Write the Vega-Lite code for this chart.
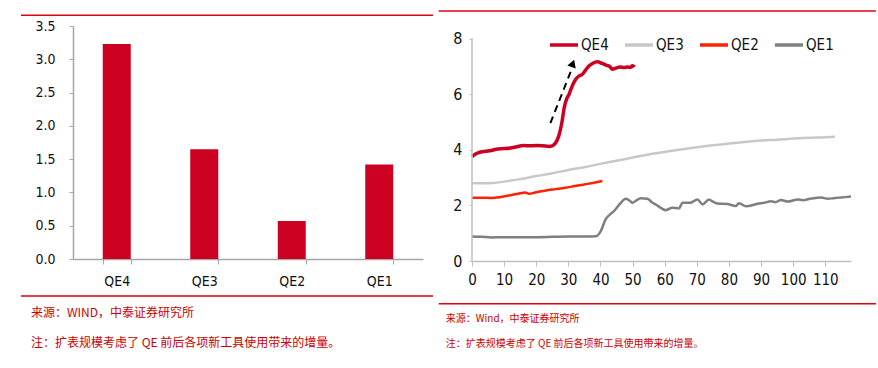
{
  "$schema": "https://vega.github.io/schema/vega-lite/v6.json",
  "background": "white",
  "padding": {"left": 20, "top": 10, "right": 0, "bottom": 0},
  "spacing": 49,
  "bounds": "flush",
  "config": {
    "view": {"stroke": null},
    "axis": {"labelColor": "#111111", "labelOverlap": false, "labelFont": "'Liberation Sans Narrow', 'DejaVu Sans Condensed', 'Liberation Sans', sans-serif"}
  },
  "datasets": {
    "bars": [
      {"qe": "QE4", "v": 3.23},
      {"qe": "QE3", "v": 1.65},
      {"qe": "QE2", "v": 0.57},
      {"qe": "QE1", "v": 1.42}
    ],
    "decoLeftRules": [
      {"x": -0.1486, "x2": 1.0286, "y": 3.661},
      {"x": -0.1486, "x2": 1.0286, "y": -0.556}
    ],
    "decoLeftText": [
      {"x": -0.12, "y": -0.816, "t": "来源：WIND，中泰证券研究所"},
      {"x": -0.12, "y": -1.257, "t": "注：扩表规模考虑了 QE 前后各项新工具使用带来的增量。"}
    ],
    "decoRightRules": [
      {"x": -10.37, "x2": 125.76, "y": 9.009},
      {"x": -10.37, "x2": 125.76, "y": -1.539}
    ],
    "decoRightText": [
      {"x": -8.16, "y": -2.09, "t": "来源：Wind，中泰证券研究所"},
      {"x": -8.16, "y": -2.99, "t": "注：扩表规模考虑了 QE 前后各项新工具使用带来的增量。"}
    ],
    "yAxisLine": [{"x": 0, "y": 0, "y2": 8.03}],
    "arrow": [{"x": 24.4, "y": 4.97, "x2": 31.0, "y2": 6.9}],
    "arrowHead": [{"x": 31.4, "y": 7.12}],
    "lines": [
      {"s": "QE4", "x": 0, "y": 3.76}, {"s": "QE4", "x": 1, "y": 3.85}, {"s": "QE4", "x": 2, "y": 3.9}, {"s": "QE4", "x": 4, "y": 3.95},
      {"s": "QE4", "x": 6, "y": 3.98}, {"s": "QE4", "x": 8, "y": 4.04}, {"s": "QE4", "x": 10, "y": 4.05}, {"s": "QE4", "x": 12, "y": 4.07},
      {"s": "QE4", "x": 14, "y": 4.12}, {"s": "QE4", "x": 16, "y": 4.16}, {"s": "QE4", "x": 18, "y": 4.15}, {"s": "QE4", "x": 20, "y": 4.16},
      {"s": "QE4", "x": 22, "y": 4.15}, {"s": "QE4", "x": 24, "y": 4.13}, {"s": "QE4", "x": 25, "y": 4.15}, {"s": "QE4", "x": 26, "y": 4.25},
      {"s": "QE4", "x": 27, "y": 4.5}, {"s": "QE4", "x": 28, "y": 5.0}, {"s": "QE4", "x": 28.7, "y": 5.52}, {"s": "QE4", "x": 29.5, "y": 5.85},
      {"s": "QE4", "x": 30.2, "y": 6.0}, {"s": "QE4", "x": 31, "y": 6.25}, {"s": "QE4", "x": 32.3, "y": 6.55}, {"s": "QE4", "x": 33.5, "y": 6.68},
      {"s": "QE4", "x": 34.4, "y": 6.73}, {"s": "QE4", "x": 35.5, "y": 6.9}, {"s": "QE4", "x": 36.4, "y": 7.03}, {"s": "QE4", "x": 37.5, "y": 7.12},
      {"s": "QE4", "x": 39, "y": 7.18}, {"s": "QE4", "x": 40.5, "y": 7.12}, {"s": "QE4", "x": 41.7, "y": 7.06}, {"s": "QE4", "x": 42.8, "y": 7.02},
      {"s": "QE4", "x": 43.7, "y": 6.91}, {"s": "QE4", "x": 45, "y": 6.96}, {"s": "QE4", "x": 46, "y": 6.99}, {"s": "QE4", "x": 47.5, "y": 6.97},
      {"s": "QE4", "x": 48.4, "y": 6.99}, {"s": "QE4", "x": 49.3, "y": 6.98}, {"s": "QE4", "x": 50, "y": 7.04}, {"s": "QE4", "x": 50.6, "y": 6.99},
      {"s": "QE3", "x": 0, "y": 2.8}, {"s": "QE3", "x": 5, "y": 2.8}, {"s": "QE3", "x": 10, "y": 2.86}, {"s": "QE3", "x": 15, "y": 2.95},
      {"s": "QE3", "x": 20, "y": 3.06}, {"s": "QE3", "x": 25, "y": 3.16}, {"s": "QE3", "x": 30, "y": 3.28}, {"s": "QE3", "x": 35, "y": 3.38},
      {"s": "QE3", "x": 40, "y": 3.5}, {"s": "QE3", "x": 45, "y": 3.61}, {"s": "QE3", "x": 50, "y": 3.73}, {"s": "QE3", "x": 55, "y": 3.84},
      {"s": "QE3", "x": 60, "y": 3.93}, {"s": "QE3", "x": 65, "y": 4.02}, {"s": "QE3", "x": 70, "y": 4.1}, {"s": "QE3", "x": 75, "y": 4.17},
      {"s": "QE3", "x": 80, "y": 4.23}, {"s": "QE3", "x": 85, "y": 4.29}, {"s": "QE3", "x": 90, "y": 4.34}, {"s": "QE3", "x": 95, "y": 4.37},
      {"s": "QE3", "x": 100, "y": 4.41}, {"s": "QE3", "x": 105, "y": 4.44}, {"s": "QE3", "x": 110, "y": 4.46}, {"s": "QE3", "x": 113, "y": 4.48},
      {"s": "QE2", "x": 0, "y": 2.28}, {"s": "QE2", "x": 3, "y": 2.28}, {"s": "QE2", "x": 6, "y": 2.27}, {"s": "QE2", "x": 9, "y": 2.31},
      {"s": "QE2", "x": 12, "y": 2.37}, {"s": "QE2", "x": 15, "y": 2.44}, {"s": "QE2", "x": 16.5, "y": 2.47}, {"s": "QE2", "x": 17.8, "y": 2.42},
      {"s": "QE2", "x": 20, "y": 2.48}, {"s": "QE2", "x": 23, "y": 2.54}, {"s": "QE2", "x": 26, "y": 2.59}, {"s": "QE2", "x": 29, "y": 2.64},
      {"s": "QE2", "x": 32, "y": 2.7}, {"s": "QE2", "x": 35, "y": 2.76}, {"s": "QE2", "x": 38, "y": 2.82}, {"s": "QE2", "x": 40.6, "y": 2.88},
      {"s": "QE1", "x": 0, "y": 0.88}, {"s": "QE1", "x": 3, "y": 0.87}, {"s": "QE1", "x": 6, "y": 0.85}, {"s": "QE1", "x": 10, "y": 0.86},
      {"s": "QE1", "x": 15, "y": 0.86}, {"s": "QE1", "x": 20, "y": 0.86}, {"s": "QE1", "x": 25, "y": 0.87}, {"s": "QE1", "x": 30, "y": 0.88},
      {"s": "QE1", "x": 35, "y": 0.88}, {"s": "QE1", "x": 38.5, "y": 0.89}, {"s": "QE1", "x": 40.1, "y": 1.08}, {"s": "QE1", "x": 41.6, "y": 1.5},
      {"s": "QE1", "x": 43, "y": 1.68}, {"s": "QE1", "x": 44.2, "y": 1.8}, {"s": "QE1", "x": 46, "y": 2.05}, {"s": "QE1", "x": 47.9, "y": 2.24},
      {"s": "QE1", "x": 49, "y": 2.18}, {"s": "QE1", "x": 50, "y": 2.1}, {"s": "QE1", "x": 51, "y": 2.17}, {"s": "QE1", "x": 52.6, "y": 2.26},
      {"s": "QE1", "x": 54.6, "y": 2.24}, {"s": "QE1", "x": 56, "y": 2.12}, {"s": "QE1", "x": 57.7, "y": 2.0}, {"s": "QE1", "x": 59, "y": 1.9},
      {"s": "QE1", "x": 60.3, "y": 1.83}, {"s": "QE1", "x": 62.4, "y": 1.92}, {"s": "QE1", "x": 64.5, "y": 1.9}, {"s": "QE1", "x": 65.5, "y": 2.1},
      {"s": "QE1", "x": 68, "y": 2.1}, {"s": "QE1", "x": 70.2, "y": 2.22}, {"s": "QE1", "x": 71.8, "y": 2.04}, {"s": "QE1", "x": 73.8, "y": 2.22},
      {"s": "QE1", "x": 75, "y": 2.14}, {"s": "QE1", "x": 76.4, "y": 2.07}, {"s": "QE1", "x": 79.5, "y": 2.05}, {"s": "QE1", "x": 82.1, "y": 1.98},
      {"s": "QE1", "x": 83.1, "y": 2.08}, {"s": "QE1", "x": 85.3, "y": 1.97}, {"s": "QE1", "x": 88.9, "y": 2.06}, {"s": "QE1", "x": 91, "y": 2.1},
      {"s": "QE1", "x": 93.1, "y": 2.15}, {"s": "QE1", "x": 94.5, "y": 2.12}, {"s": "QE1", "x": 96.2, "y": 2.2}, {"s": "QE1", "x": 98.3, "y": 2.14},
      {"s": "QE1", "x": 101.5, "y": 2.22}, {"s": "QE1", "x": 103, "y": 2.19}, {"s": "QE1", "x": 105.6, "y": 2.25}, {"s": "QE1", "x": 108.7, "y": 2.29},
      {"s": "QE1", "x": 110.8, "y": 2.24}, {"s": "QE1", "x": 113, "y": 2.27}, {"s": "QE1", "x": 115, "y": 2.29}, {"s": "QE1", "x": 118, "y": 2.32}
    ]
  },
  "hconcat": [
    {
      "width": 350,
      "height": 233,
      "resolve": {"scale": {"x": "independent"}},
      "layer": [
        {
          "data": {"name": "bars"},
          "mark": {"type": "bar", "color": "#CC0020"},
          "encoding": {
            "x": {
              "field": "qe", "type": "nominal", "sort": null,
              "scale": {"paddingInner": 0.68, "paddingOuter": 0.34},
              "axis": {"title": null, "labelAngle": 0, "tickBand": "extent", "labelPadding": 10, "labelFontSize": 14,
                       "tickSize": 5, "domainColor": "#A6A6A6", "tickColor": "#A6A6A6", "domainWidth": 1.5}
            },
            "y": {
              "field": "v", "type": "quantitative",
              "scale": {"domain": [0, 3.5], "nice": false},
              "axis": {"title": null, "values": [0, 0.5, 1, 1.5, 2, 2.5, 3, 3.5], "format": ".1f", "grid": false,
                       "tickSize": 4, "labelPadding": 14, "labelFontSize": 14, "labelOverlap": false,
                       "domainColor": "#A6A6A6", "tickColor": "#A6A6A6", "domainWidth": 1.5}
            }
          }
        },
        {
          "data": {"name": "decoLeftRules"},
          "mark": {"type": "rule", "color": "#E00010", "strokeWidth": 1.5},
          "encoding": {
            "x": {"field": "x", "type": "quantitative", "scale": {"domain": [0, 1], "nice": false}, "axis": null},
            "x2": {"field": "x2"},
            "y": {"field": "y", "type": "quantitative", "scale": {"domain": [0, 3.5], "nice": false},
                  "axis": {"title": null, "values": [0, 0.5, 1, 1.5, 2, 2.5, 3, 3.5], "format": ".1f", "grid": false,
                       "tickSize": 4, "labelPadding": 14, "labelFontSize": 14, "labelOverlap": false,
                       "domainColor": "#A6A6A6", "tickColor": "#A6A6A6", "domainWidth": 1.5}}
          }
        },
        {
          "data": {"name": "decoLeftText"},
          "mark": {"type": "text", "align": "left", "baseline": "middle", "color": "#CC0000", "fontSize": 12, "font": "Noto Sans CJK SC"},
          "encoding": {
            "x": {"field": "x", "type": "quantitative", "scale": {"domain": [0, 1], "nice": false}, "axis": null},
            "y": {"field": "y", "type": "quantitative", "scale": {"domain": [0, 3.5], "nice": false},
                  "axis": {"title": null, "values": [0, 0.5, 1, 1.5, 2, 2.5, 3, 3.5], "format": ".1f", "grid": false,
                       "tickSize": 4, "labelPadding": 14, "labelFontSize": 14, "labelOverlap": false,
                       "domainColor": "#A6A6A6", "tickColor": "#A6A6A6", "domainWidth": 1.5}},
            "text": {"field": "t"}
          }
        }
      ]
    },
    {
      "width": 379,
      "height": 235,
      "layer": [
        {
          "data": {"name": "lines"},
          "mark": {"type": "line", "interpolate": "monotone"},
          "encoding": {
            "x": {
              "field": "x", "type": "quantitative", "scale": {"domain": [0, 118], "nice": false},
              "axis": {"title": null, "values": [0, 10, 20, 30, 40, 50, 60, 70, 80, 90, 100, 110], "grid": false,
                       "tickSize": 5, "labelPadding": 6, "labelFontSize": 15, "labelFlush": false, "labelOverlap": false,
                       "domainColor": "#BFBFBF", "tickColor": "#BFBFBF", "domainWidth": 1.5}
            },
            "y": {
              "field": "y", "type": "quantitative", "scale": {"domain": [0, 8.468], "nice": false},
              "axis": {"title": null, "values": [0, 2, 4, 6, 8], "grid": false, "domain": false, "labelOverlap": false,
                       "tickSize": 3, "labelPadding": 7, "labelFontSize": 16, "tickColor": "#BFBFBF"}
            },
            "color": {
              "field": "s", "type": "nominal",
              "scale": {"domain": ["QE4", "QE3", "QE2", "QE1"], "range": ["#CC0022", "#C8C8C8", "#FF2200", "#7F7F7F"]},
              "legend": {"orient": "none", "legendX": 475, "legendY": 3, "direction": "horizontal", "title": null,
                         "symbolType": "stroke", "symbolSize": 784, "symbolStrokeWidth": 3.5,
                         "labelFontSize": 15, "labelFont": "'Liberation Sans Narrow', 'DejaVu Sans Condensed', 'Liberation Sans', sans-serif", "labelColor": "#111111",
                         "labelOffset": 1, "columnPadding": 9}
            },
            "strokeWidth": {"condition": {"test": "datum.s === 'QE4'", "value": 3.5}, "value": 2.5}
          }
        },
        {
          "data": {"name": "yAxisLine"},
          "mark": {"type": "rule", "color": "#BFBFBF", "strokeWidth": 1.5},
          "encoding": {
            "x": {"field": "x", "type": "quantitative", "scale": {"domain": [0, 118], "nice": false},
                  "axis": {"title": null, "values": [0, 10, 20, 30, 40, 50, 60, 70, 80, 90, 100, 110], "grid": false,
                       "tickSize": 5, "labelPadding": 6, "labelFontSize": 15, "labelFlush": false, "labelOverlap": false,
                       "domainColor": "#BFBFBF", "tickColor": "#BFBFBF", "domainWidth": 1.5}},
            "y": {"field": "y", "type": "quantitative", "scale": {"domain": [0, 8.468], "nice": false},
                  "axis": {"title": null, "values": [0, 2, 4, 6, 8], "grid": false, "domain": false, "labelOverlap": false,
                       "tickSize": 3, "labelPadding": 7, "labelFontSize": 16, "tickColor": "#BFBFBF"}},
            "y2": {"field": "y2"}
          }
        },
        {
          "data": {"name": "arrow"},
          "mark": {"type": "rule", "color": "#000000", "strokeWidth": 2, "strokeDash": [7, 5]},
          "encoding": {
            "x": {"field": "x", "type": "quantitative", "scale": {"domain": [0, 118], "nice": false},
                  "axis": {"title": null, "values": [0, 10, 20, 30, 40, 50, 60, 70, 80, 90, 100, 110], "grid": false,
                       "tickSize": 5, "labelPadding": 6, "labelFontSize": 15, "labelFlush": false, "labelOverlap": false,
                       "domainColor": "#BFBFBF", "tickColor": "#BFBFBF", "domainWidth": 1.5}},
            "y": {"field": "y", "type": "quantitative", "scale": {"domain": [0, 8.468], "nice": false},
                  "axis": {"title": null, "values": [0, 2, 4, 6, 8], "grid": false, "domain": false, "labelOverlap": false,
                       "tickSize": 3, "labelPadding": 7, "labelFontSize": 16, "tickColor": "#BFBFBF"}},
            "x2": {"field": "x2"},
            "y2": {"field": "y2"}
          }
        },
        {
          "data": {"name": "arrowHead"},
          "mark": {"type": "point", "shape": "triangle-up", "filled": true, "color": "#000000", "size": 80, "angle": 20, "opacity": 1},
          "encoding": {
            "x": {"field": "x", "type": "quantitative", "scale": {"domain": [0, 118], "nice": false},
                  "axis": {"title": null, "values": [0, 10, 20, 30, 40, 50, 60, 70, 80, 90, 100, 110], "grid": false,
                       "tickSize": 5, "labelPadding": 6, "labelFontSize": 15, "labelFlush": false, "labelOverlap": false,
                       "domainColor": "#BFBFBF", "tickColor": "#BFBFBF", "domainWidth": 1.5}},
            "y": {"field": "y", "type": "quantitative", "scale": {"domain": [0, 8.468], "nice": false},
                  "axis": {"title": null, "values": [0, 2, 4, 6, 8], "grid": false, "domain": false, "labelOverlap": false,
                       "tickSize": 3, "labelPadding": 7, "labelFontSize": 16, "tickColor": "#BFBFBF"}}
          }
        },
        {
          "data": {"name": "decoRightRules"},
          "mark": {"type": "rule", "color": "#E00010", "strokeWidth": 1.5},
          "encoding": {
            "x": {"field": "x", "type": "quantitative", "scale": {"domain": [0, 118], "nice": false},
                  "axis": {"title": null, "values": [0, 10, 20, 30, 40, 50, 60, 70, 80, 90, 100, 110], "grid": false,
                       "tickSize": 5, "labelPadding": 6, "labelFontSize": 15, "labelFlush": false, "labelOverlap": false,
                       "domainColor": "#BFBFBF", "tickColor": "#BFBFBF", "domainWidth": 1.5}},
            "x2": {"field": "x2"},
            "y": {"field": "y", "type": "quantitative", "scale": {"domain": [0, 8.468], "nice": false},
                  "axis": {"title": null, "values": [0, 2, 4, 6, 8], "grid": false, "domain": false, "labelOverlap": false,
                       "tickSize": 3, "labelPadding": 7, "labelFontSize": 16, "tickColor": "#BFBFBF"}}
          }
        },
        {
          "data": {"name": "decoRightText"},
          "mark": {"type": "text", "align": "left", "baseline": "middle", "color": "#CC0000", "fontSize": 10, "font": "Noto Sans CJK SC"},
          "encoding": {
            "x": {"field": "x", "type": "quantitative", "scale": {"domain": [0, 118], "nice": false},
                  "axis": {"title": null, "values": [0, 10, 20, 30, 40, 50, 60, 70, 80, 90, 100, 110], "grid": false,
                       "tickSize": 5, "labelPadding": 6, "labelFontSize": 15, "labelFlush": false, "labelOverlap": false,
                       "domainColor": "#BFBFBF", "tickColor": "#BFBFBF", "domainWidth": 1.5}},
            "y": {"field": "y", "type": "quantitative", "scale": {"domain": [0, 8.468], "nice": false},
                  "axis": {"title": null, "values": [0, 2, 4, 6, 8], "grid": false, "domain": false, "labelOverlap": false,
                       "tickSize": 3, "labelPadding": 7, "labelFontSize": 16, "tickColor": "#BFBFBF"}},
            "text": {"field": "t"}
          }
        }
      ]
    }
  ]
}
